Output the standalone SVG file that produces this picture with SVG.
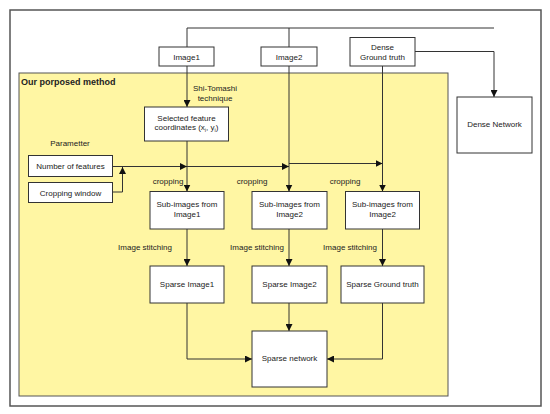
<svg xmlns="http://www.w3.org/2000/svg" width="550" height="414" viewBox="0 0 550 414">
<defs>
<marker id="ah" viewBox="0 0 10 10" refX="10" refY="5" markerWidth="7" markerHeight="7" markerUnits="userSpaceOnUse" orient="auto">
<path d="M0,0 L10,5 L0,10 z" fill="#111"/>
</marker>
<style>
.box{fill:#fff;stroke:#333;stroke-width:1}
text{font-family:"Liberation Sans",Arial,sans-serif;font-size:8px;fill:#222}
.c{text-anchor:middle}
.ln{fill:none;stroke:#333;stroke-width:1}
.ar{fill:none;stroke:#333;stroke-width:1;marker-end:url(#ah)}
</style>
</defs>
<rect width="550" height="414" fill="#fff"/>
<rect x="10" y="10" width="531" height="396" fill="#fff" stroke="#555" stroke-width="1.5"/>
<g id="method">
<rect x="19" y="73" width="429" height="323" fill="#fff6a3" stroke="#555" stroke-width="1"/>
<text x="21" y="85" style="font-weight:bold;font-size:9px">Our porposed method</text>
</g>
<g id="connectors">
<path class="ln" d="M187,47 V28 H494"/>
<path class="ln" d="M289,28 V47"/>
<path class="ar" d="M415,51.5 H494 V97"/>
<path class="ar" d="M187,66 V107"/>
<path class="ar" d="M187,141 V191.5"/>
<path class="ar" d="M289,66 V191.5"/>
<path class="ar" d="M382.5,66 V191.5"/>
<path class="ar" d="M112,166.5 H187"/>
<path class="ar" d="M187,166.5 H289"/>
<path class="ar" d="M289,163.5 H382.5"/>
<path class="ar" d="M112,192 H122.5 V167"/>
<path class="ar" d="M187,229 V266"/>
<path class="ar" d="M289,229 V266"/>
<path class="ar" d="M382.5,229 V266"/>
<path class="ar" d="M187,303 V359 H252"/>
<path class="ar" d="M289,303 V331"/>
<path class="ar" d="M382.5,303 V359 H327"/>
</g>
<g id="labels">
<text class="c" x="215" y="90.5">Shi-Tomashi</text>
<text class="c" x="215" y="100.5">technique</text>
<text class="c" x="70" y="146">Parametter</text>
<text class="c" x="168" y="184">cropping</text>
<text class="c" x="252" y="184">cropping</text>
<text class="c" x="345" y="184">cropping</text>
<text class="c" x="145" y="249.5">Image stitching</text>
<text class="c" x="257" y="249.5">Image stitching</text>
<text class="c" x="350" y="249.5">Image stitching</text>
</g>
<g id="image1"><rect class="box" x="159" y="47" width="55" height="19"/><text class="c" x="186.5" y="59.5">Image1</text></g>
<g id="image2"><rect class="box" x="261" y="47" width="56" height="19"/><text class="c" x="289" y="59.5">Image2</text></g>
<g id="dense-gt"><rect class="box" x="350" y="37.5" width="65" height="28.5"/><text class="c" x="382.5" y="50">Dense</text><text class="c" x="382.5" y="60">Ground truth</text></g>
<g id="dense-network"><rect class="box" x="457" y="97" width="75" height="56"/><text class="c" x="494.5" y="127">Dense Network</text></g>
<g id="selected"><rect class="box" x="144.5" y="107" width="84" height="34"/><text class="c" x="186.5" y="121">Selected feature</text><text class="c" x="186.5" y="130">coordinates (x<tspan font-size="5.5" dy="1.5">i</tspan><tspan dy="-1.5">, y</tspan><tspan font-size="5.5" dy="1.5">i</tspan><tspan dy="-1.5">)</tspan></text></g>
<g id="num-features"><rect class="box" x="28.5" y="155.5" width="84" height="21"/><text class="c" x="70.5" y="169">Number of features</text></g>
<g id="crop-window"><rect class="box" x="28.5" y="182.5" width="84" height="20"/><text class="c" x="70.5" y="195.5">Cropping window</text></g>
<g id="sub1"><rect class="box" x="150" y="191.5" width="74" height="37.5"/><text class="c" x="187" y="207">Sub-images from</text><text class="c" x="187" y="217">Image1</text></g>
<g id="sub2"><rect class="box" x="252" y="191.5" width="75" height="37.5"/><text class="c" x="289.5" y="207">Sub-images from</text><text class="c" x="289.5" y="217">Image2</text></g>
<g id="sub3"><rect class="box" x="345.5" y="191.5" width="74" height="37.5"/><text class="c" x="382.5" y="207">Sub-images from</text><text class="c" x="382.5" y="217">Image2</text></g>
<g id="sparse1"><rect class="box" x="150" y="266" width="74" height="37"/><text class="c" x="187" y="287">Sparse Image1</text></g>
<g id="sparse2"><rect class="box" x="252" y="266" width="75" height="37"/><text class="c" x="289.5" y="287">Sparse Image2</text></g>
<g id="sparse-gt"><rect class="box" x="341" y="266" width="83" height="37"/><text class="c" x="382.5" y="287">Sparse Ground truth</text></g>
<g id="sparse-network"><rect class="box" x="252" y="331" width="75" height="56"/><text class="c" x="289.5" y="361">Sparse network</text></g>
</svg>
